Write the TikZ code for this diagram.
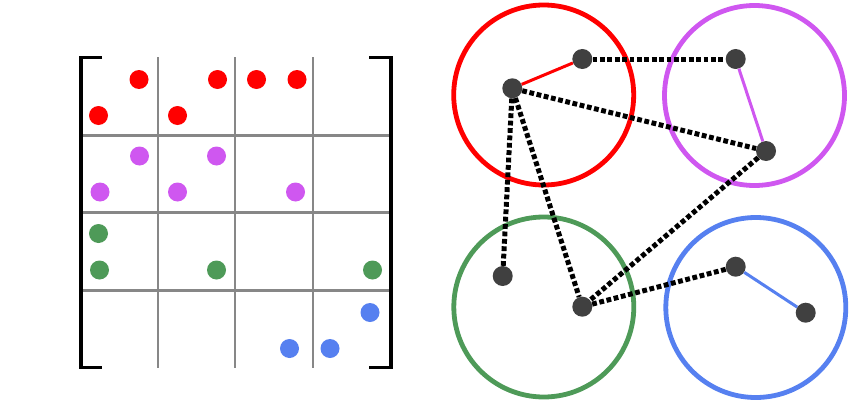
\documentclass[tikz,border=0pt]{standalone}
\usepackage{xcolor}
\usepackage{tikz}
\usetikzlibrary{calc}
\usetikzlibrary{positioning}
\definecolor{cred}{HTML}{FF0000}
\definecolor{cpurple}{HTML}{CF57F0}
\definecolor{cgreen}{HTML}{4E9A58}
\definecolor{cblue}{HTML}{5680F0}
\definecolor{cnode}{HTML}{404040}
\tikzstyle{dotnode}=[shape=circle, draw=none, minimum size=19pt, inner sep=0pt]
\tikzstyle{graphnode}=[shape=circle, fill=cnode, draw=none, minimum size=20pt, inner sep=0pt]
\tikzstyle{clusternode}=[shape=circle, draw, line width=4.8pt, minimum size=180pt, inner sep=0pt]
\tikzstyle{gridline}=[draw=black!47, line width=2.4pt]
\tikzstyle{bracketline}=[draw=black, line width=3.6pt]
\tikzstyle{crossedge}=[draw=black, line width=5pt, dash pattern=on 4.8pt off 2.6pt]
\tikzstyle{inedge}=[line width=3pt]

\begin{document}
\begin{tikzpicture}[x=1pt, y=-1pt]
\useasboundingbox (0,0) rectangle (850,412);

% matrix grid
\draw[gridline] (158,57) -- (158,368);
\draw[gridline] (235,57) -- (235,368);
\draw[gridline] (313,57) -- (313,368);
\draw[gridline] (81,135.5) -- (391,135.5);
\draw[gridline] (81,212.5) -- (391,212.5);
\draw[gridline] (81,290.5) -- (391,290.5);
\draw[bracketline] (102,57.5) -- (81,57.5) -- (81,367.5) -- (102,367.5);
\draw[bracketline] (369,57.5) -- (391,57.5) -- (391,367.5) -- (369,367.5);

% matrix entries
\node [dotnode, fill=cred] (r1) at (139,79.5) {};
\node [dotnode, fill=cred] (r2) at (217.5,79.5) {};
\node [dotnode, fill=cred] (r3) at (256.5,79.5) {};
\node [dotnode, fill=cred] (r4) at (297,79.5) {};
\node [dotnode, fill=cred] (r5) at (98.5,115.5) {};
\node [dotnode, fill=cred] (r6) at (177.5,115.5) {};
\node [dotnode, fill=cpurple] (p1) at (139.5,156) {};
\node [dotnode, fill=cpurple] (p2) at (216.5,156) {};
\node [dotnode, fill=cpurple] (p3) at (100,192) {};
\node [dotnode, fill=cpurple] (p4) at (177.5,192) {};
\node [dotnode, fill=cpurple] (p5) at (295.5,192) {};
\node [dotnode, fill=cgreen] (g1) at (98.5,233.5) {};
\node [dotnode, fill=cgreen] (g2) at (99.5,270) {};
\node [dotnode, fill=cgreen] (g3) at (216.5,270) {};
\node [dotnode, fill=cgreen] (g4) at (372.5,270) {};
\node [dotnode, fill=cblue] (b1) at (370,312.5) {};
\node [dotnode, fill=cblue] (b2) at (289.5,348.5) {};
\node [dotnode, fill=cblue] (b3) at (330,348.5) {};

% clusters
\node [clusternode, draw=cred] (redc) at (543.7,95) {};
\node [clusternode, draw=cpurple] (purplec) at (754.5,95.5) {};
\node [clusternode, draw=cgreen] (greenc) at (543.8,307) {};
\node [clusternode, draw=cblue] (bluec) at (755.8,307.5) {};

% graph
\node [graphnode] (va) at (582.3,59) {};
\node [graphnode] (vb) at (512.3,88.3) {};
\node [graphnode] (vc) at (735.7,59) {};
\node [graphnode] (vd) at (766,151) {};
\node [graphnode] (ve) at (502.7,276) {};
\node [graphnode] (vf) at (582.3,306.7) {};
\node [graphnode] (vg) at (735.7,266.7) {};
\node [graphnode] (vh) at (805.7,312.7) {};

\draw[inedge, color=cred] (vb) -- (va);
\draw[inedge, color=cpurple] (vc) -- (vd);
\draw[inedge, color=cblue] (vg) -- (vh);
\draw[crossedge] (va) -- (vc);
\draw[crossedge] (vb) -- (vd);
\draw[crossedge] (vb) -- (ve);
\draw[crossedge] (vb) -- (vf);
\draw[crossedge] (vd) -- (vf);
\draw[crossedge] (vf) -- (vg);
\end{tikzpicture}
\end{document}
